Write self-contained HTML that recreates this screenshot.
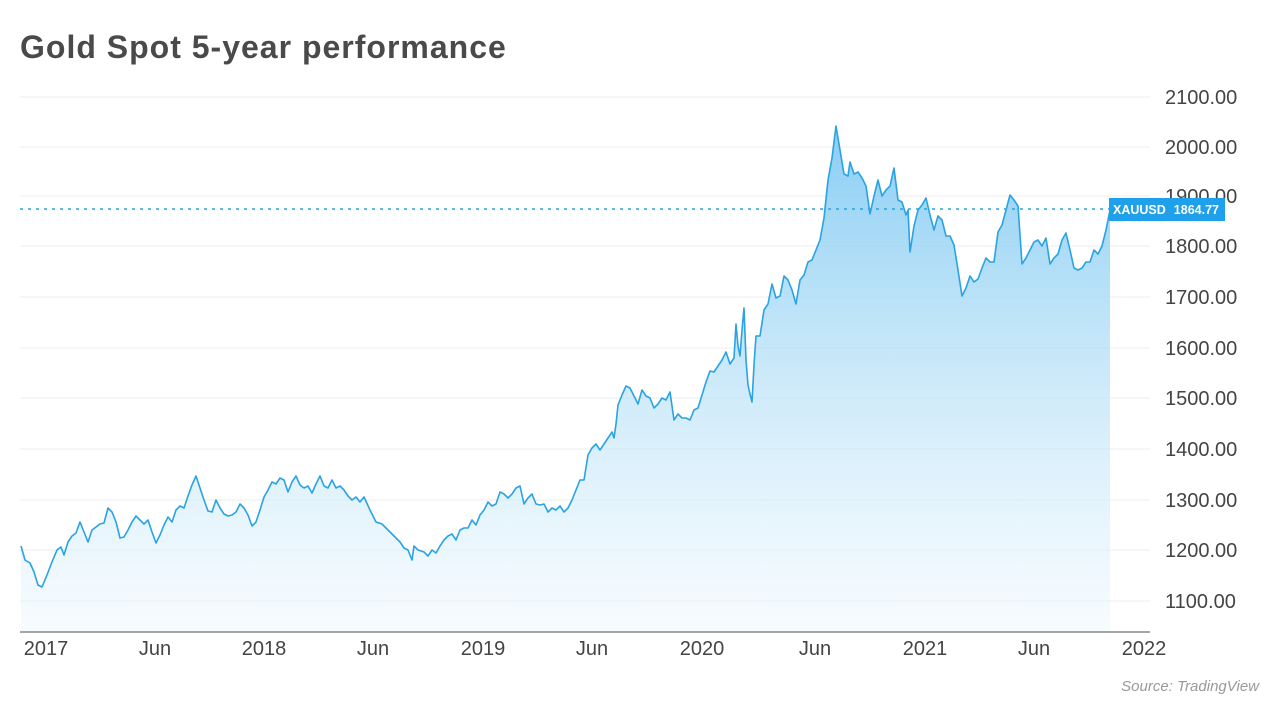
<!DOCTYPE html>
<html><head><meta charset="utf-8"><style>
html,body{margin:0;padding:0;background:#fff;}
body{width:1280px;height:716px;overflow:hidden;position:relative;font-family:"Liberation Sans",sans-serif;}
</style></head><body>
<svg width="1280" height="716" xmlns="http://www.w3.org/2000/svg" style="position:absolute;left:0;top:0">
<defs><linearGradient id="g" x1="0" y1="0" x2="0" y2="1">
<stop offset="0" stop-color="#7cc8f2" stop-opacity="0.9"/>
<stop offset="0.55" stop-color="#bfe4f8" stop-opacity="0.7"/>
<stop offset="1" stop-color="#eef8fe" stop-opacity="0.5"/></linearGradient></defs>
<text x="20" y="58" font-family="Liberation Sans,sans-serif" font-weight="bold" font-size="32" letter-spacing="1.0" fill="#4a4a4a">Gold Spot 5-year performance</text>
<g stroke="#ececec" stroke-width="1">
<line x1="20" y1="97" x2="1150" y2="97"/><line x1="20" y1="147" x2="1150" y2="147"/><line x1="20" y1="196" x2="1150" y2="196"/><line x1="20" y1="246" x2="1150" y2="246"/><line x1="20" y1="297" x2="1150" y2="297"/><line x1="20" y1="348" x2="1150" y2="348"/><line x1="20" y1="398" x2="1150" y2="398"/><line x1="20" y1="449" x2="1150" y2="449"/><line x1="20" y1="500" x2="1150" y2="500"/><line x1="20" y1="550" x2="1150" y2="550"/><line x1="20" y1="601" x2="1150" y2="601"/>
</g>
<g font-family="Liberation Sans,sans-serif" font-size="20" fill="#444">
<text x="1165" y="104">2100.00</text><text x="1165" y="154">2000.00</text><text x="1165" y="203">1900.00</text><text x="1165" y="253">1800.00</text><text x="1165" y="304">1700.00</text><text x="1165" y="355">1600.00</text><text x="1165" y="405">1500.00</text><text x="1165" y="456">1400.00</text><text x="1165" y="507">1300.00</text><text x="1165" y="557">1200.00</text><text x="1165" y="608">1100.00</text>
</g>
<polygon fill="url(#g)" points="21,632 21,546 25,560 30,563 34,572 38,585 42,587 47,575 52,562 57,550 61,547 64,555 68,542 72,536 76,533 80,522 84,532 88,542 92,530 96,527 100,524 104,523 108,508 112,512 116,522 120,538 124,537 128,530 132,522 136,516 140,520 144,524 148,520 152,532 156,543 160,535 164,525 168,517 172,522 176,510 180,506 184,508 188,496 192,485 196,476 200,488 204,500 208,511 212,512 216,500 220,508 224,514 228,516 232,515 236,512 240,504 244,508 248,515 252,526 256,522 260,510 264,497 268,490 272,482 276,484 280,478 284,480 288,492 292,482 296,476 300,485 304,488 308,486 312,493 316,484 320,476 324,486 328,488 332,480 336,488 340,486 344,490 348,496 352,500 356,497 360,502 364,497 370,510 376,522 382,524 388,530 394,536 400,542 404,548 408,550 412,560 414,546 418,550 424,552 428,556 432,550 436,553 440,546 444,540 448,536 452,534 456,540 460,530 464,528 468,528 472,520 476,525 480,515 484,510 488,502 492,506 496,504 500,492 504,494 508,498 512,494 516,488 520,486 524,504 528,498 532,494 536,504 540,505 544,504 548,512 552,508 556,510 560,506 564,512 568,508 572,500 576,490 580,480 584,480 588,455 592,448 596,444 600,450 604,444 608,438 612,432 614,438 616,424 618,405 622,395 626,386 630,388 634,396 638,404 642,390 646,396 650,398 654,408 658,404 662,398 666,400 670,392 674,420 678,414 682,418 686,418 690,420 694,410 698,408 702,395 706,382 710,371 714,372 718,366 722,360 726,352 730,364 734,358 736,324 738,346 740,356 742,330 744,308 746,360 748,385 750,394 752,402 754,365 756,336 760,336 764,310 768,304 772,284 776,298 780,296 784,276 788,280 792,290 796,304 800,280 804,275 808,262 812,260 816,250 820,240 824,218 828,180 832,158 836,126 840,150 844,174 848,176 850,162 854,174 858,172 862,178 866,186 870,214 874,196 878,180 882,196 886,190 890,186 894,168 898,200 902,202 906,215 908,210 910,252 914,226 918,210 922,205 926,198 930,215 934,230 938,216 942,220 946,236 950,236 954,245 958,270 962,296 966,288 970,276 974,282 978,279 982,268 986,258 990,262 994,262 998,232 1002,225 1006,210 1010,195 1014,200 1018,206 1022,264 1026,258 1030,250 1034,242 1038,240 1042,246 1046,238 1050,264 1054,258 1058,254 1062,240 1066,233 1070,250 1074,268 1078,270 1082,268 1086,262 1090,262 1094,250 1098,254 1102,246 1106,230 1110,210 1110,632"/>
<polyline fill="none" stroke="#29a3e3" stroke-width="1.6" stroke-linejoin="round" points="21,546 25,560 30,563 34,572 38,585 42,587 47,575 52,562 57,550 61,547 64,555 68,542 72,536 76,533 80,522 84,532 88,542 92,530 96,527 100,524 104,523 108,508 112,512 116,522 120,538 124,537 128,530 132,522 136,516 140,520 144,524 148,520 152,532 156,543 160,535 164,525 168,517 172,522 176,510 180,506 184,508 188,496 192,485 196,476 200,488 204,500 208,511 212,512 216,500 220,508 224,514 228,516 232,515 236,512 240,504 244,508 248,515 252,526 256,522 260,510 264,497 268,490 272,482 276,484 280,478 284,480 288,492 292,482 296,476 300,485 304,488 308,486 312,493 316,484 320,476 324,486 328,488 332,480 336,488 340,486 344,490 348,496 352,500 356,497 360,502 364,497 370,510 376,522 382,524 388,530 394,536 400,542 404,548 408,550 412,560 414,546 418,550 424,552 428,556 432,550 436,553 440,546 444,540 448,536 452,534 456,540 460,530 464,528 468,528 472,520 476,525 480,515 484,510 488,502 492,506 496,504 500,492 504,494 508,498 512,494 516,488 520,486 524,504 528,498 532,494 536,504 540,505 544,504 548,512 552,508 556,510 560,506 564,512 568,508 572,500 576,490 580,480 584,480 588,455 592,448 596,444 600,450 604,444 608,438 612,432 614,438 616,424 618,405 622,395 626,386 630,388 634,396 638,404 642,390 646,396 650,398 654,408 658,404 662,398 666,400 670,392 674,420 678,414 682,418 686,418 690,420 694,410 698,408 702,395 706,382 710,371 714,372 718,366 722,360 726,352 730,364 734,358 736,324 738,346 740,356 742,330 744,308 746,360 748,385 750,394 752,402 754,365 756,336 760,336 764,310 768,304 772,284 776,298 780,296 784,276 788,280 792,290 796,304 800,280 804,275 808,262 812,260 816,250 820,240 824,218 828,180 832,158 836,126 840,150 844,174 848,176 850,162 854,174 858,172 862,178 866,186 870,214 874,196 878,180 882,196 886,190 890,186 894,168 898,200 902,202 906,215 908,210 910,252 914,226 918,210 922,205 926,198 930,215 934,230 938,216 942,220 946,236 950,236 954,245 958,270 962,296 966,288 970,276 974,282 978,279 982,268 986,258 990,262 994,262 998,232 1002,225 1006,210 1010,195 1014,200 1018,206 1022,264 1026,258 1030,250 1034,242 1038,240 1042,246 1046,238 1050,264 1054,258 1058,254 1062,240 1066,233 1070,250 1074,268 1078,270 1082,268 1086,262 1090,262 1094,250 1098,254 1102,246 1106,230 1110,210"/>
<line x1="20" y1="209" x2="1110" y2="209" stroke="#29a3e3" stroke-width="1.5" stroke-dasharray="3,5"/>
<rect x="1109" y="198" width="116" height="23" fill="#1ea0ea"/>
<text x="1113" y="214" font-family="Liberation Sans,sans-serif" font-size="12.5" font-weight="bold" fill="#fff">XAUUSD<tspan dx="8">1864.77</tspan></text>
<line x1="20" y1="632" x2="1150" y2="632" stroke="#888" stroke-width="1.5"/>
<g font-family="Liberation Sans,sans-serif" font-size="20" fill="#444" text-anchor="middle">
<text x="46" y="655">2017</text><text x="155" y="655">Jun</text><text x="264" y="655">2018</text><text x="373" y="655">Jun</text><text x="483" y="655">2019</text><text x="592" y="655">Jun</text><text x="702" y="655">2020</text><text x="815" y="655">Jun</text><text x="925" y="655">2021</text><text x="1034" y="655">Jun</text><text x="1144" y="655">2022</text>
</g>
<text x="1259" y="691" text-anchor="end" font-family="Liberation Sans,sans-serif" font-style="italic" font-size="15" fill="#999">Source: TradingView</text>
</svg>
</body></html>
